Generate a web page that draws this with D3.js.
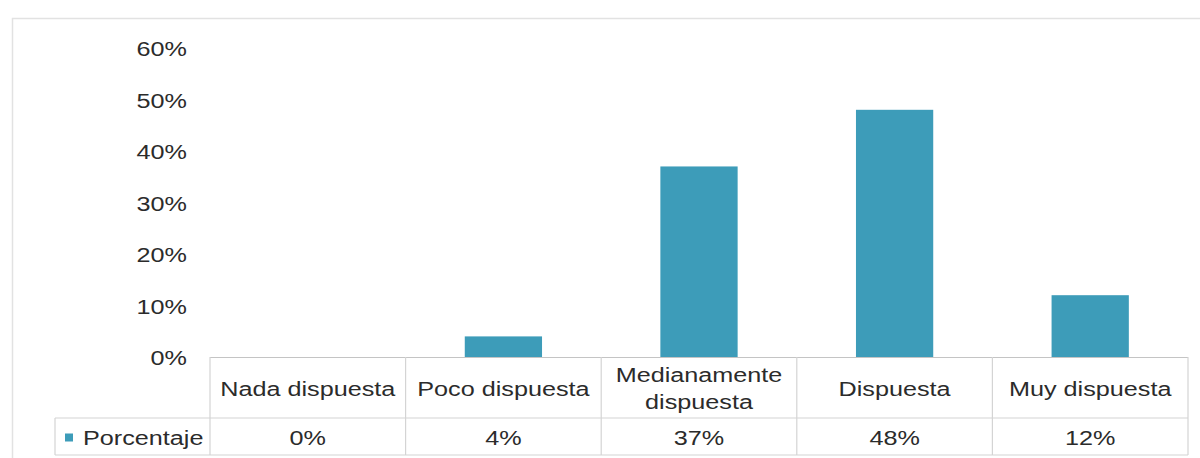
<!DOCTYPE html>
<html>
<head>
<meta charset="utf-8">
<script src="https://cdn.jsdelivr.net/npm/d3@7"></script>
<style>
  html, body { margin: 0; padding: 0; background: #fff; }
  svg { display: block; }
  text { font-family: "Liberation Sans", Arial, sans-serif; fill: #2b2b2b; }
</style>
</head>
<body>
<svg id="chart" width="1200" height="458"></svg>
<script>
// Disposición: categorías y porcentajes
const categories = ["Nada dispuesta", "Poco dispuesta", "Medianamente dispuesta", "Dispuesta", "Muy dispuesta"];
const categoryLines = [["Nada dispuesta"], ["Poco dispuesta"], ["Medianamente", "dispuesta"], ["Dispuesta"], ["Muy dispuesta"]];
const porcentaje = [0, 4, 37, 48, 12];
const seriesName = "Porcentaje";
const yTicks = [0, 10, 20, 30, 40, 50, 60];

const W = 1200, H = 458;
const plotLeft = 210, plotRight = 1188, plotTop = 48, plotBottom = 357;
const rowSplit = 418, tableBottom = 455, legendLeft = 55;
const barColor = "#3d9cb9";
const lineColor = "#d4d4d4";
const fontSize = 21, stretch = 1.2;

const svg = d3.select("#chart");

const x = d3.scaleBand().domain(categories).range([plotLeft, plotRight]).padding(0);
const y = d3.scaleLinear().domain([0, 60]).range([plotBottom, plotTop]);

// Outer chart frame
svg.append("path")
  .attr("d", `M12.5,${H} V18.5 H${W}`)
  .attr("fill", "none").attr("stroke", "#e2e2e2").attr("stroke-width", 1.5);

// helper for stretched text
function label(g, tx, ty, str, anchor) {
  return g.append("text")
    .attr("transform", `translate(${tx},${ty}) scale(${stretch},1)`)
    .attr("text-anchor", anchor || "middle")
    .attr("dominant-baseline", "central")
    .attr("font-size", fontSize)
    .text(str);
}

// Y axis labels (no axis line)
const yAxis = svg.append("g");
yTicks.forEach(t => label(yAxis, 187, y(t) + 1, t + "%", "end"));

// Bars
const barW = x.bandwidth() * 0.395;
svg.append("g").selectAll("rect")
  .data(categories)
  .join("rect")
  .attr("x", (d) => x(d) + (x.bandwidth() - barW) / 2)
  .attr("width", barW)
  .attr("y", (d, i) => y(porcentaje[i]))
  .attr("height", (d, i) => Math.max(0, y(0) - y(porcentaje[i])))
  .attr("fill", barColor);

// Data table
const table = svg.append("g").attr("stroke", lineColor).attr("stroke-width", 1.2).attr("fill", "none");
// header top (category axis line)
table.append("line").attr("x1", plotLeft).attr("x2", plotRight).attr("y1", plotBottom + 0.5).attr("y2", plotBottom + 0.5).attr("stroke", "#c4c4c4");
table.append("line").attr("x1", legendLeft).attr("x2", plotRight).attr("y1", rowSplit).attr("y2", rowSplit);
table.append("line").attr("x1", legendLeft).attr("x2", plotRight).attr("y1", tableBottom).attr("y2", tableBottom);
table.append("line").attr("x1", legendLeft).attr("x2", legendLeft).attr("y1", rowSplit).attr("y2", tableBottom);
const edges = categories.map(c => x(c)).concat([plotRight]);
edges.forEach(e => table.append("line").attr("x1", e).attr("x2", e).attr("y1", plotBottom).attr("y2", tableBottom));

// Category names
const cats = svg.append("g");
categories.forEach((c, i) => {
  const cx = x(c) + x.bandwidth() / 2;
  const lines = categoryLines[i];
  const mid = (plotBottom + rowSplit) / 2 + 1;
  const lh = 27;
  lines.forEach((ln, k) => label(cats, cx, mid + (k - (lines.length - 1) / 2) * lh, ln));
});

// Value row
const vals = svg.append("g");
const rowMid = (rowSplit + tableBottom) / 2 + 1;
categories.forEach((c, i) => label(vals, x(c) + x.bandwidth() / 2, rowMid, porcentaje[i] + "%"));

// Legend key
svg.append("rect").attr("x", 65).attr("y", rowMid - 4).attr("width", 8).attr("height", 8).attr("fill", barColor);
label(svg, 83, rowMid, seriesName, "start");
</script>
</body>
</html>
